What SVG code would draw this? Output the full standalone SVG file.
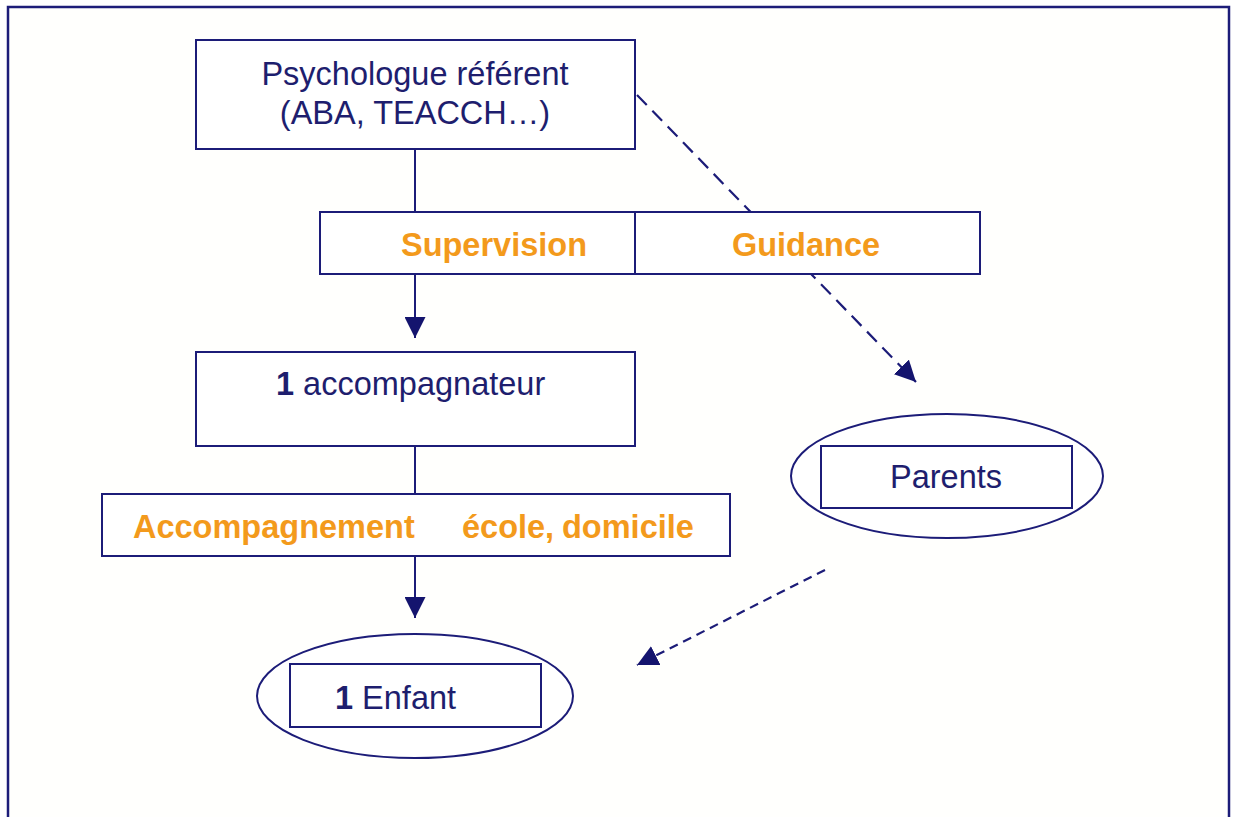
<svg xmlns="http://www.w3.org/2000/svg" width="1234" height="817" viewBox="0 0 1234 817">
<defs>
<style>
.box{fill:#ffffff;stroke:#1c1c78;stroke-width:2}
.ln{fill:none;stroke:#1c1c78;stroke-width:2}
.dash1{fill:none;stroke:#1c1c78;stroke-width:2.2;stroke-dasharray:14 8}
.dash2{fill:none;stroke:#1c1c78;stroke-width:2.2;stroke-dasharray:9 6}
.t{font-family:"Liberation Sans",Arial,sans-serif;font-size:32.5px;fill:#1e1e6e}
.o{font-family:"Liberation Sans",Arial,sans-serif;font-size:32.5px;font-weight:bold;fill:#f39a1c}
.b{font-weight:bold}
</style>
<marker id="ahb" viewBox="0 0 10 10" refX="10" refY="5" markerWidth="21" markerHeight="21" markerUnits="userSpaceOnUse" orient="auto">
<path d="M0,0 L10,5 L0,10 Z" fill="#14146e"/>
</marker>
</defs>
<rect x="0" y="0" width="1234" height="817" fill="#ffffff"/>
<rect x="8" y="7" width="1221" height="830" fill="#fffffd" stroke="#1c1c78" stroke-width="2.5"/>

<g id="connectors">
<line class="ln" x1="415" y1="149" x2="415" y2="212"/>
<line class="ln" x1="415" y1="274" x2="415" y2="338" marker-end="url(#ahb)"/>
<line class="ln" x1="415" y1="446" x2="415" y2="494"/>
<line class="ln" x1="415" y1="556" x2="415" y2="618" marker-end="url(#ahb)"/>
<line class="dash1" x1="637" y1="95" x2="916" y2="382" marker-end="url(#ahb)"/>
<line class="dash2" x1="825" y1="570" x2="637" y2="665" marker-end="url(#ahb)"/>
</g>

<g id="psychologue">
<rect class="box" x="196" y="40" width="439" height="109"/>
<text class="t" x="415" y="85" text-anchor="middle">Psychologue référent</text>
<text class="t" x="415" y="124" text-anchor="middle">(ABA, TEACCH…)</text>
</g>

<g id="supervision-guidance">
<rect class="box" x="320" y="212" width="660" height="62"/>
<line class="ln" x1="635" y1="212" x2="635" y2="274"/>
<text class="o" x="494" y="256" text-anchor="middle">Supervision</text>
<text class="o" x="806" y="256" text-anchor="middle">Guidance</text>
</g>

<g id="accompagnateur">
<rect class="box" x="196" y="352" width="439" height="94"/>
<text class="t" x="276" y="395"><tspan class="b">1</tspan> accompagnateur</text>
</g>

<g id="accompagnement">
<rect class="box" x="102" y="494" width="628" height="62"/>
<text class="o" y="538"><tspan x="133">Accompagnement</tspan><tspan x="462">école,</tspan><tspan x="562">domicile</tspan></text>
</g>

<g id="parents">
<ellipse class="box" cx="947" cy="476" rx="156" ry="62"/>
<rect class="box" x="821" y="446" width="251" height="62"/>
<text class="t" x="946" y="488" text-anchor="middle">Parents</text>
</g>

<g id="enfant">
<ellipse class="box" cx="415" cy="696" rx="158" ry="62"/>
<rect class="box" x="290" y="664" width="251" height="63"/>
<text class="t" x="335" y="709"><tspan class="b">1</tspan> Enfant</text>
</g>
</svg>
